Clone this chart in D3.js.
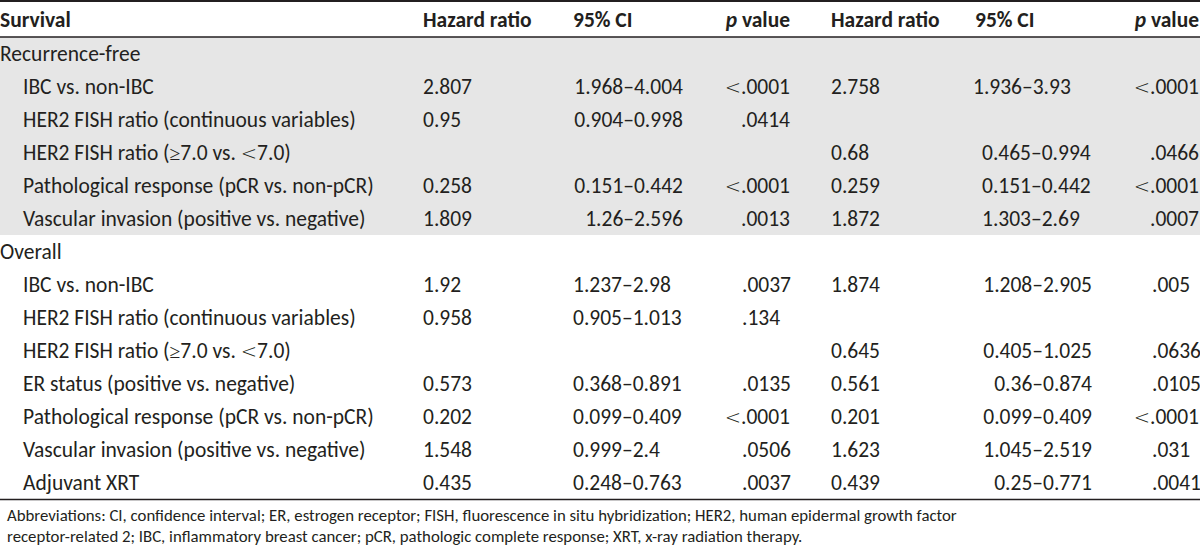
<!DOCTYPE html>
<html><head><meta charset="utf-8">
<script src="https://cdn.jsdelivr.net/npm/d3@7"></script>
<style>
html,body{margin:0;padding:0;background:#fff;}
svg{display:block;}
text{font-family:Carlito, Lato, "Open Sans", sans-serif;fill:#231f20;}
</style></head><body>
<svg id="chart" width="1200" height="546"></svg>
<script>
// ---------- data ----------
const headers = ["Survival", "Hazard ratio", "95% CI", "p value", "Hazard ratio", "95% CI", "p value"];
const groups = ["Recurrence-free", "Overall"];
const rowGroup = ["Recurrence-free","Recurrence-free","Recurrence-free","Recurrence-free","Recurrence-free","Recurrence-free",
                  "Overall","Overall","Overall","Overall","Overall","Overall","Overall","Overall"];
const rowLabels = [
  "Recurrence-free",
  "IBC vs. non-IBC",
  "HER2 FISH ratio (continuous variables)",
  "HER2 FISH ratio (\u22657.0 vs. <7.0)",
  "Pathological response (pCR vs. non-pCR)",
  "Vascular invasion (positive vs. negative)",
  "Overall",
  "IBC vs. non-IBC",
  "HER2 FISH ratio (continuous variables)",
  "HER2 FISH ratio (\u22657.0 vs. <7.0)",
  "ER status (positive vs. negative)",
  "Pathological response (pCR vs. non-pCR)",
  "Vascular invasion (positive vs. negative)",
  "Adjuvant XRT"
];
const isGroupRow = [true,false,false,false,false,false,true,false,false,false,false,false,false,false];
const hazard1 = ["", "2.807", "0.95", "", "0.258", "1.809", "", "1.92", "0.958", "", "0.573", "0.202", "1.548", "0.435"];
const ci1 = ["", "1.968\u20134.004", "0.904\u20130.998", "", "0.151\u20130.442", "1.26\u20132.596", "",
             "1.237\u20132.98", "0.905\u20131.013", "", "0.368\u20130.891", "0.099\u20130.409", "0.999\u20132.4", "0.248\u20130.763"];
const p1 = ["", "<.0001", ".0414", "", "<.0001", ".0013", "", ".0037", ".134", "", ".0135", "<.0001", ".0506", ".0037"];
const hazard2 = ["", "2.758", "", "0.68", "0.259", "1.872", "", "1.874", "", "0.645", "0.561", "0.201", "1.623", "0.439"];
const ci2 = ["", "1.936\u20133.93", "", "0.465\u20130.994", "0.151\u20130.442", "1.303\u20132.69", "",
             "1.208\u20132.905", "", "0.405\u20131.025", "0.36\u20130.874", "0.099\u20130.409", "1.045\u20132.519", "0.25\u20130.771"];
const p2 = ["", "<.0001", "", ".0466", "<.0001", ".0007", "", ".005", "", ".0636", ".0105", "<.0001", ".031", ".0041"];
const footnote = [
  "Abbreviations: CI, confidence interval; ER, estrogen receptor; FISH, fluorescence in situ hybridization; HER2, human epidermal growth factor",
  "receptor-related 2; IBC, inflammatory breast cancer; pCR, pathologic complete response; XRT, x-ray radiation therapy."
];

// ---------- layout ----------
const W = 1200, FS = 21.5, FN = 16.8;
const svg = d3.select("#chart");
const headerH = 37;
const y = d3.scaleBand().domain(d3.range(rowLabels.length)).range([headerH, 499]);
const shade = "#e6e6e6";

// shaded band for recurrence-free block
const rfRows = d3.range(rowLabels.length).filter(i => rowGroup[i] === groups[0]);
svg.append("rect").attr("x", 0).attr("width", W)
  .attr("y", y(rfRows[0])).attr("height", y(rfRows[rfRows.length-1]) + y.bandwidth() - y(rfRows[0]))
  .attr("fill", shade);

// rules
svg.append("line").attr("x1",0).attr("x2",W).attr("y1",1).attr("y2",1).attr("stroke","#231f20").attr("stroke-width",2);
svg.append("line").attr("x1",0).attr("x2",W).attr("y1",headerH).attr("y2",headerH).attr("stroke","#231f20").attr("stroke-width",1.6);
svg.append("line").attr("x1",0).attr("x2",W).attr("y1",y.range()[1]+0.5).attr("y2",y.range()[1]+0.5).attr("stroke","#231f20").attr("stroke-width",1.3);

// header
const hx = [0, 423, 573, 790, 831, 975, 1199];
const hanchor = ["start","start","start","end","start","start","end"];
headers.forEach((h, j) => {
  const t = svg.append("text").attr("x", hx[j]).attr("y", headerH/2 + 1).attr("dy","0.35em")
    .attr("text-anchor", hanchor[j]).attr("font-size", FS).attr("font-weight", 700);
  if (h.startsWith("p ")) {
    t.append("tspan").attr("font-style","italic").text("p");
    t.append("tspan").text(h.slice(1));
  } else t.text(h);
});

// cell writer (renders "<" / "≥" with a thin glyph)
function cell(x, i, str, anchor) {
  if (!str) return;
  const t = svg.append("text").attr("x", x).attr("y", y(i) + y.bandwidth()/2).attr("dy","0.35em")
    .attr("text-anchor", anchor).attr("font-size", FS);
  const parts = str.split(/([<\u2265])/);
  parts.forEach(p => {
    if (p === "<" || p === "\u2265") {
      t.append("tspan").attr("font-family","'DejaVu Sans'").attr("font-weight",200).attr("font-size",FS-2).text(p);
    } else if (p) t.append("tspan").text(p);
  });
}

rowLabels.forEach((lab, i) => {
  cell(isGroupRow[i] ? 0 : 23, i, lab, "start");
  const rf = rowGroup[i] === groups[0];
  cell(423, i, hazard1[i], "start");
  // CI column 1: right aligned for recurrence-free, left for overall
  if (rf) cell(683, i, ci1[i], "end"); else cell(573, i, ci1[i], "start");
  // p column 1
  if (rf || p1[i].startsWith("<")) cell(790, i, p1[i], "end"); else cell(742, i, p1[i], "start");
  cell(831, i, hazard2[i], "start");
  if (rf) cell(i === 1 ? 973 : 982, i, ci2[i], "start"); else cell(1092, i, ci2[i], "end");
  if (rf || p2[i].startsWith("<")) cell(1199, i, p2[i], "end"); else cell(1152, i, p2[i], "start");
});

// footnote
footnote.forEach((f, k) => {
  svg.append("text").attr("x", 7).attr("y", 515 + k*21).attr("dy","0.35em")
    .attr("font-size", FN).text(f);
});
</script>
</body></html>
